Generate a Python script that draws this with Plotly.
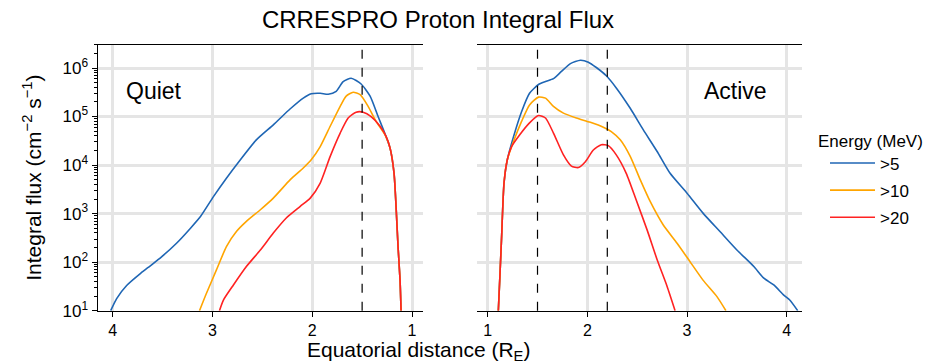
import plotly.graph_objects as go
import numpy as np

# ---------------- data ----------------
energies = [">5", ">10", ">20"]
colors = ["#1f66b4", "#ffa500", "#ff2222"]

# Quiet panel
q_blue_x = [4.02, 3.96, 3.86, 3.72, 3.62, 3.51, 3.36, 3.22, 3.12, 2.99, 2.86, 2.72, 2.56, 2.39, 2.22, 2.09,
            2.01, 1.92, 1.84, 1.76, 1.69, 1.61, 1.51, 1.42, 1.34, 1.27, 1.22, 1.18, 1.16, 1.14, 1.12, 1.11]
q_blue_y = [1.0, 1.25, 1.52, 1.77, 1.93, 2.11, 2.39, 2.70, 2.94, 3.35, 3.73, 4.11, 4.52, 4.83, 5.16, 5.38,
            5.47, 5.48, 5.46, 5.52, 5.72, 5.79, 5.67, 5.42, 5.00, 4.64, 4.35, 3.83, 3.15, 2.32, 1.63, 1.0]
q_orange_x = [3.13, 3.06, 2.96, 2.86, 2.76, 2.66, 2.52, 2.39, 2.22, 2.09, 2.01, 1.92, 1.82, 1.72, 1.66, 1.59,
              1.52, 1.44, 1.36, 1.27, 1.22, 1.18, 1.16, 1.14, 1.12, 1.11]
q_orange_y = [1.0, 1.36, 1.84, 2.32, 2.63, 2.84, 3.08, 3.32, 3.70, 3.94, 4.11, 4.38, 4.80, 5.21, 5.42, 5.50,
              5.45, 5.21, 4.90, 4.62, 4.35, 3.83, 3.15, 2.32, 1.63, 1.0]
q_red_x = [2.93, 2.89, 2.79, 2.66, 2.52, 2.39, 2.26, 2.12, 2.02, 1.92, 1.82, 1.72, 1.64, 1.56, 1.49, 1.41,
           1.32, 1.26, 1.22, 1.18, 1.16, 1.14, 1.12, 1.11]
q_red_y = [1.0, 1.22, 1.53, 1.91, 2.25, 2.60, 2.91, 3.15, 3.32, 3.63, 4.18, 4.66, 4.97, 5.09, 5.09, 5.00,
           4.80, 4.59, 4.35, 3.83, 3.15, 2.32, 1.63, 1.0]

# Active panel
a_blue_x = [1.107, 1.124, 1.14, 1.164, 1.197, 1.26, 1.34, 1.42, 1.51, 1.58, 1.66, 1.74, 1.83, 1.93, 2.01, 2.09,
            2.19, 2.29, 2.43, 2.56, 2.70, 2.83, 3.00, 3.16, 3.33, 3.50, 3.67, 3.77, 3.87, 3.97, 4.03, 4.11]
a_blue_y = [1.0, 1.77, 2.53, 3.63, 4.11, 4.59, 5.10, 5.48, 5.66, 5.72, 5.78, 5.93, 6.09, 6.16, 6.12, 6.01,
            5.84, 5.59, 5.17, 4.73, 4.28, 3.83, 3.42, 3.01, 2.63, 2.25, 1.91, 1.67, 1.53, 1.32, 1.22, 1.0]
a_orange_x = [1.107, 1.124, 1.14, 1.164, 1.197, 1.26, 1.34, 1.42, 1.51, 1.58, 1.66, 1.76, 1.89, 2.03, 2.16,
              2.24, 2.33, 2.43, 2.53, 2.63, 2.76, 2.90, 3.03, 3.16, 3.30, 3.39]
a_orange_y = [1.0, 1.77, 2.53, 3.63, 4.11, 4.49, 4.90, 5.24, 5.40, 5.38, 5.21, 5.07, 4.97, 4.88, 4.78,
              4.69, 4.52, 4.18, 3.70, 3.25, 2.77, 2.39, 2.01, 1.63, 1.29, 1.0]
a_red_x = [1.107, 1.124, 1.14, 1.164, 1.197, 1.24, 1.32, 1.42, 1.51, 1.58, 1.66, 1.76, 1.84, 1.91, 1.98,
           2.06, 2.14, 2.21, 2.29, 2.39, 2.49, 2.60, 2.70, 2.80, 2.88]
a_red_y = [1.0, 1.77, 2.53, 3.63, 4.11, 4.38, 4.62, 4.87, 5.02, 4.97, 4.66, 4.21, 3.98, 3.95, 4.07,
           4.31, 4.42, 4.40, 4.21, 3.83, 3.28, 2.66, 2.05, 1.50, 1.0]

quiet_markers = [1.5]
active_markers = [1.5, 2.2]

x_ticks = [1, 2, 3, 4]
y_tickvals = [1e1, 1e2, 1e3, 1e4, 1e5, 1e6]
y_ticktext = ["10<sup>1</sup>", "10<sup>2</sup>", "10<sup>3</sup>", "10<sup>4</sup>", "10<sup>5</sup>", "10<sup>6</sup>"]

# ---------------- figure ----------------
FONT = "Arial, Liberation Sans, sans-serif"
W, H = 934, 364
fig = go.Figure()

quiet = [(q_blue_x, q_blue_y), (q_orange_x, q_orange_y), (q_red_x, q_red_y)]
active = [(a_blue_x, a_blue_y), (a_orange_x, a_orange_y), (a_red_x, a_red_y)]

for i, (xs, ys) in enumerate(quiet):
    fig.add_trace(go.Scatter(x=xs, y=[10 ** v for v in ys], mode="lines",
                             line=dict(color=colors[i], width=1.6, shape="spline", smoothing=0.6),
                             name=energies[i], legendgroup=energies[i], showlegend=True, xaxis="x", yaxis="y"))
for i, (xs, ys) in enumerate(active):
    fig.add_trace(go.Scatter(x=xs, y=[10 ** v for v in ys], mode="lines",
                             line=dict(color=colors[i], width=1.6, shape="spline", smoothing=0.6),
                             name=energies[i], legendgroup=energies[i], showlegend=False, xaxis="x2", yaxis="y2"))

minor_vals = [m * 10 ** k for k in range(1, 7) for m in range(2, 10)]

xl = (97.7 / W, 423 / W)
xr = (476.7 / W, 801.7 / W)
yd = (1 - 310.7 / H, 1 - 44.7 / H)
grid_c = "#e5e5e5"

common_x = dict(tickvals=x_ticks, ticks="outside", ticklen=5, tickwidth=1.2, tickcolor="black",
                showline=True, linecolor="black", linewidth=1.3, mirror=True, automargin=False,
                showgrid=True, gridcolor=grid_c, gridwidth=2.5, zeroline=False,
                tickfont=dict(size=16, color="black", family=FONT))

fig.update_layout(
    width=W, height=H, margin=dict(l=0, r=0, t=0, b=0, autoexpand=False),
    paper_bgcolor="white", plot_bgcolor="white",
    font=dict(family=FONT, color="black"),
    title=dict(text="CRRESPRO Proton Integral Flux", x=438 / W, xanchor="center", y=1 - 20 / H, yanchor="middle",
               font=dict(size=24, color="black", family=FONT)),
    xaxis=dict(domain=xl, range=[4.15, 0.89], anchor="y", **common_x),
    xaxis2=dict(domain=xr, range=[0.89, 4.15], anchor="y2", **common_x),
    yaxis=dict(domain=yd, type="log", range=[1, 6.48], anchor="x", automargin=False,
               tickvals=y_tickvals, ticktext=y_ticktext, ticks="outside", ticklen=5, tickwidth=1.2, tickcolor="black",
               minor=dict(tickvals=minor_vals, ticks="outside", ticklen=3, tickwidth=0.8, tickcolor="black", showgrid=False),
               showline=True, linecolor="black", linewidth=1.3, mirror=False,
               showgrid=True, gridcolor=grid_c, gridwidth=2.5, zeroline=False,
               tickfont=dict(size=17, color="black", family=FONT),
               title=dict(text="Integral flux (cm<sup>−2</sup> s<sup>−1</sup>)", font=dict(size=21, family=FONT), standoff=15)),
    yaxis2=dict(domain=yd, type="log", range=[1, 6.48], anchor="x2", automargin=False,
                tickvals=y_tickvals, showticklabels=False, ticks="",
                showline=False, showgrid=True, gridcolor=grid_c, gridwidth=2.5, zeroline=False),
    legend=dict(x=825 / W, xanchor="left", y=1 - 145.5 / H, yanchor="top", tracegroupgap=2,
                font=dict(size=17, family=FONT), bgcolor="rgba(0,0,0,0)", itemwidth=45),
)

for xv in quiet_markers:
    fig.add_shape(type="line", xref="x", yref="y domain", x0=xv, x1=xv, y0=0, y1=1,
                  line=dict(color="black", width=1.2, dash="dash"))
for xv in active_markers:
    fig.add_shape(type="line", xref="x2", yref="y2 domain", x0=xv, x1=xv, y0=0, y1=1,
                  line=dict(color="black", width=1.2, dash="dash"))

fig.add_annotation(text="Energy (MeV)", xref="paper", yref="paper", x=816 / W, y=1 - 142 / H, xanchor="left",
                   yanchor="middle", showarrow=False, font=dict(size=17, color="black", family=FONT))
fig.add_annotation(text="Quiet", xref="paper", yref="paper", x=124 / W, y=1 - 91 / H, xanchor="left", yanchor="middle",
                   showarrow=False, font=dict(size=23, color="black", family=FONT))
fig.add_annotation(text="Active", xref="paper", yref="paper", x=769 / W, y=1 - 91 / H, xanchor="right", yanchor="middle",
                   showarrow=False, font=dict(size=23, color="black", family=FONT))
fig.add_annotation(text="Equatorial distance (R<sub>E</sub>)", xref="paper", yref="paper", x=418 / W, y=1 - 351 / H,
                   xanchor="center", yanchor="middle", showarrow=False, borderpad=0,
                   font=dict(size=21, color="black", family=FONT))

fig.write_html("out.html")
